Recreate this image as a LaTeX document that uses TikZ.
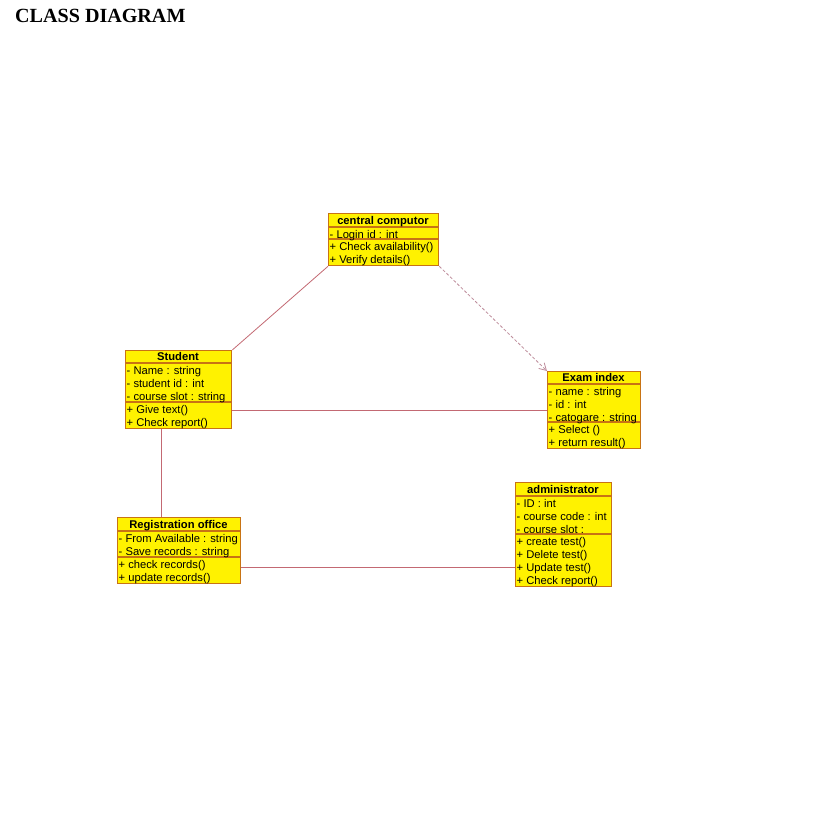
\documentclass[tikz,border=0pt]{standalone}
\usepackage{fontspec}
\setmainfont{Liberation Sans}
\newfontfamily\titlefont{Liberation Serif}
\usetikzlibrary{arrows.meta}
\definecolor{boxfill}{RGB}{255,242,0}
\definecolor{boxline}{RGB}{200,115,20}
\definecolor{conline}{RGB}{195,105,115}
\definecolor{dashline}{RGB}{190,140,155}
\tikzset{
  classbox/.style={draw=boxline, fill=boxfill, line width=1.3pt, inner sep=0pt, anchor=north west},
  sepline/.style={draw=boxline, line width=1.1pt},
  ctitle/.style={font=\fontsize{11.2}{13}\selectfont\bfseries, inner sep=0pt, anchor=center},
  ctext/.style={font=\fontsize{11.2}{13}\selectfont, inner sep=0pt, anchor=north west, align=left},
  assoc/.style={draw=conline, line width=0.8pt},
  dep/.style={draw=dashline, line width=0.8pt, dash pattern=on 3pt off 2pt, -{Straight Barb[length=7pt,width=8pt]}},
}
\newcommand\umlclass[7]{%
  \node[classbox, minimum width=#4, minimum height={#5+#6+#7}] (#1) at (#2,#3) {};
  \draw[sepline] (#2,#3+#5) -- ++(#4,0);
  \draw[sepline] (#2,#3+#5+#6) -- ++(#4,0);
  \def\cx{#2}\def\cy{#3}\def\cw{#4}\def\ch{#5}\def\ca{#6}%
  \umlclassfill{#1}}
\newcommand\umlclassfill[4]{%
  \node[ctitle] (#1-t) at (\cx+\cw/2,\cy+\ch/2+1.5) {\strut #2};
  \node[ctext] (#1-a) at (\cx+1.5,\cy+\ch+2.1) {\strut #3};
  \node[ctext] (#1-m) at (\cx+1.5,\cy+\ch+\ca+2.1) {\strut #4};}
\begin{document}
\begin{tikzpicture}[x=1pt,y=-1pt]
\useasboundingbox[fill=white] (0,0) rectangle (821,825);
\node[font=\titlefont\fontsize{20.1}{22}\selectfont\bfseries, anchor=base west, inner sep=0pt] (title) at (15,22) {CLASS DIAGRAM};

\umlclass{cc}{328}{213}{110}{14}{12}{26}
  {central computor}{- Login id : int}{+ Check availability()\\+ Verify details()}
\umlclass{st}{125}{350}{106}{13}{39}{26}
  {Student}{- Name : string\\- student id : int\\- course slot : string}{+ Give text()\\+ Check report()}
\umlclass{ex}{547}{371}{93}{13}{38}{26}
  {Exam index}{- name : string\\- id : int\\- catogare : string}{+ Select ()\\+ return result()}
\umlclass{ro}{117}{517}{123}{14}{26}{26}
  {Registration office}{- From Available : string\\- Save records : string}{+ check records()\\+ update records()}
\umlclass{ad}{515}{482}{96}{14}{38}{52}
  {administrator}{- ID : int\\- course code : int\\- course slot :}{+ create test()\\+ Delete test()\\+ Update test()\\+ Check report()}

\draw[assoc] (cc.south west) -- (st.north east);
\draw[dep] (cc.south east) -- (ex.north west);
\draw[assoc] (ex.west) -- (ex.west -| st.east);
\draw[assoc] ([xshift=-17pt]st.south) -- ([xshift=-17pt]st.south |- ro.north);
\draw[assoc] ([yshift=-17pt]ro.east) -- ([yshift=-17pt]ro.east -| ad.west);
\end{tikzpicture}
\end{document}
